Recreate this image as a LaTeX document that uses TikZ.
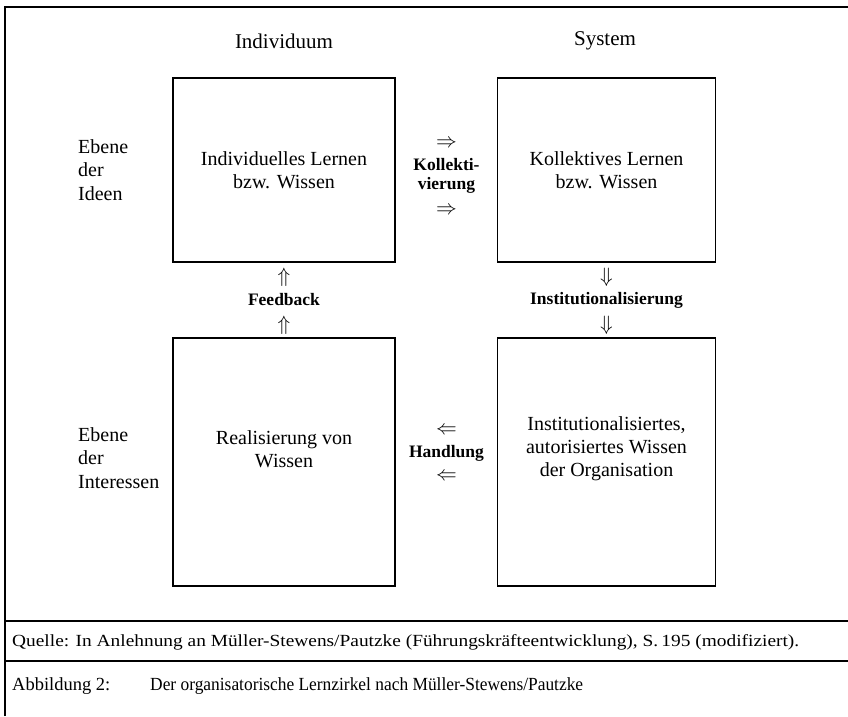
\documentclass[tikz,border=0pt]{standalone}
\usepackage{fontspec}
\setmainfont{Liberation Serif}
\begin{document}
\begin{tikzpicture}[x=1pt,y=-1pt,
  box/.style={draw, line width=1.8pt, minimum width=222pt, inner sep=0pt, align=center, font=\fontsize{20}{23}\selectfont},
  head/.style={font=\fontsize{21}{25}\selectfont, inner sep=0pt},
  side/.style={anchor=west, align=left, inner sep=0pt, font=\fontsize{20}{23.5}\selectfont},
  flow/.style={align=center, inner sep=0pt, font=\fontsize{17.5}{19.5}\selectfont\bfseries},
  arr/.style={inner sep=0pt, font=\fontsize{21}{21}\selectfont},
  frameline/.style={line width=1.4pt}]
\useasboundingbox (0,0) rectangle (848,716);
% outer frame
\coordinate (ftl) at (5,7);
\coordinate (ftr) at (848,7);
\coordinate (fbl) at (5,716);
\coordinate (qal) at (5,621);
\coordinate (qar) at (848,621);
\coordinate (qbl) at (5,661);
\coordinate (qbr) at (848,661);
\draw[frameline] (fbl) -- (ftl) -- (ftr);
\draw[frameline] (qal) -- (qar);
\draw[frameline] (qbl) -- (qbr);
% headings
\node[head] (hind) at (284,41) {Individuum};
\node[head] (hsys) at (605,41) {System};
% side labels
\node[side] (sid) at (78,170) {Ebene\\der\\Ideen};
\node[side] (sint) at (78,458) {Ebene\\der\\Interessen};
% boxes
\node[box, minimum height=184pt] (tl) at (284,170) {Individuelles Lernen\\bzw. Wissen};
\node[box, minimum height=184pt, minimum width=218pt] (tr) at (606.5,170) {Kollektives Lernen\\bzw. Wissen};
\node[box, minimum height=248pt] (bl) at (284,462) {Realisierung von\\Wissen\\[2pt]};
\node[box, minimum height=248pt, minimum width=218pt] (br) at (606.5,462) {Institutionalisiertes,\\autorisiertes Wissen\\der Organisation\\[8pt]};
% Kollektivierung
\node[arr] (ka) at (446.5,144) {$\Rightarrow$};
\node[flow] (kol) at (446.5,176) {Kollekti-\\vierung};
\node[arr] (kb) at (446.5,211) {$\Rightarrow$};
% Feedback
\node[arr] (fa) at (284,277) {$\Uparrow$};
\node[flow] (fb) at (284,300) {Feedback};
\node[arr] (fc) at (284,325) {$\Uparrow$};
% Institutionalisierung
\node[arr] (ia) at (606.5,277) {$\Downarrow$};
\node[flow] (inst) at (606.5,300) {Institutionalisierung};
\node[arr] (ic) at (606.5,325) {$\Downarrow$};
% Handlung
\node[arr] (ha) at (446.5,431) {$\Leftarrow$};
\node[flow] (hand) at (446.5,453) {Handlung};
\node[arr] (hc) at (446.5,477) {$\Leftarrow$};
% source and caption
\node[anchor=west, inner sep=0pt, font=\fontsize{17}{20}\selectfont] (src) at (12,642)
  {\scalebox{1.14}[1]{Quelle: In Anlehnung an Müller-Stewens/Pautzke (Führungskräfteentwicklung), S.\,195 (modifiziert).}};
\node[anchor=west, inner sep=0pt, font=\fontsize{18.5}{22}\selectfont] (abb) at (12,686) {Abbildung 2:};
\node[anchor=west, inner sep=0pt, font=\fontsize{18.5}{22}\selectfont] (cap) at (150,686) {\scalebox{0.94}[1]{Der organisatorische Lernzirkel nach Müller-Stewens/Pautzke}};
\end{tikzpicture}
\end{document}
